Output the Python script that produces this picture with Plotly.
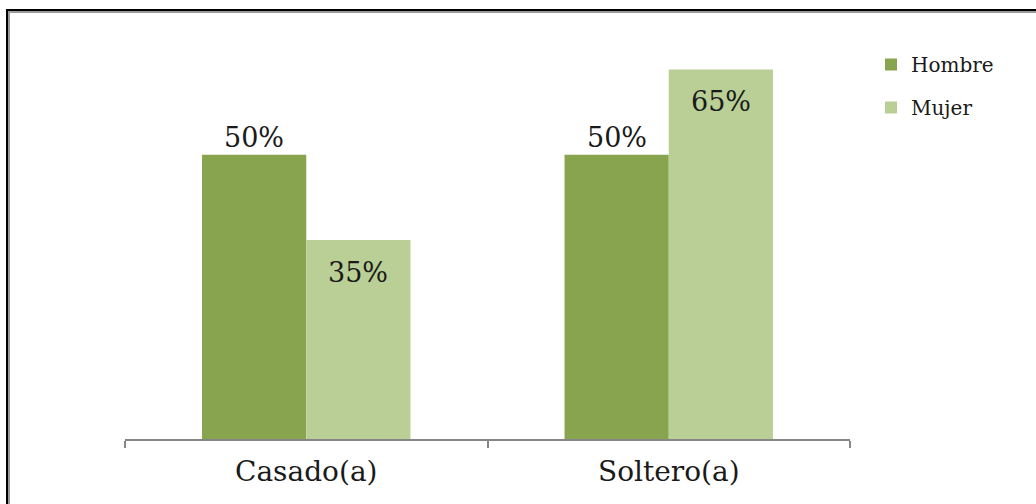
import plotly.graph_objects as go

# Estado civil por sexo (porcentaje)
categorias = ["Casado(a)", "Soltero(a)"]
hombre = [50, 50]
mujer = [35, 65]
series_nombres = ["Hombre", "Mujer"]
colores = ["#88A44E", "#B9CF96"]

W, H = 1036, 504
L, R, T, B = 125, 186, 41, 65
plot_w = W - L - R
plot_h = H - T - B

fig = go.Figure()
for nombre, valores, color in zip(series_nombres, [hombre, mujer], colores):
    fig.add_trace(go.Bar(
        x=categorias, y=valores, name=nombre,
        marker=dict(color=color, line=dict(width=0)),
        legendgroup=nombre,
    ))

# Etiquetas de valor: Hombre encima de la barra, Mujer dentro de la barra
bar_px = plot_w / len(categorias) * (1 - 0.425) / 2
fuente_val = dict(family="DejaVu Serif", size=27, color="#1a1a1a")
anot = []
for cat, vh, vm in zip(categorias, hombre, mujer):
    anot.append(dict(x=cat, y=vh, text=f"{vh}%", showarrow=False,
                     xshift=-bar_px / 2, yanchor="bottom", yshift=0,
                     font=fuente_val))
    anot.append(dict(x=cat, y=vm, text=f"{vm}%", showarrow=False,
                     xshift=bar_px / 2, yanchor="top", yshift=-15,
                     font=fuente_val))

def px_x(p):
    return (p - L) / plot_w

def px_y(p):
    return (H - B - p) / plot_h

# Marco del gráfico
marco = [
    dict(type="rect", xref="paper", yref="paper",
         x0=px_x(7), x1=px_x(1060), y0=px_y(530), y1=px_y(10),
         line=dict(color="#000000", width=2), fillcolor="rgba(0,0,0,0)", layer="above"),
    dict(type="rect", xref="paper", yref="paper",
         x0=px_x(9), x1=px_x(1060), y0=px_y(530), y1=px_y(12),
         line=dict(color="#9a9a9a", width=2), fillcolor="rgba(0,0,0,0)", layer="above"),
]

fig.update_layout(
    width=W, height=H,
    margin=dict(l=L, r=R, t=T, b=B),
    paper_bgcolor="white", plot_bgcolor="white",
    barmode="group", bargap=0.425, bargroupgap=0,
    showlegend=True,
    legend=dict(x=px_x(871), y=px_y(45), xanchor="left", yanchor="top",
                font=dict(family="DejaVu Serif", size=20, color="#1a1a1a"),
                traceorder="grouped", tracegroupgap=14,
                bgcolor="rgba(0,0,0,0)"),
    annotations=anot,
    shapes=marco,
    xaxis=dict(
        showline=True, linecolor="#868686", linewidth=2,
        ticks="outside", tickson="boundaries", ticklen=7, tickwidth=2, tickcolor="#868686",
        tickfont=dict(family="DejaVu Serif", size=28, color="#1a1a1a"),
        ticklabelstandoff=6,
        showgrid=False, zeroline=False, fixedrange=True,
    ),
    yaxis=dict(range=[0, 70], visible=False, showgrid=False, zeroline=False),
)

fig.write_html("out.html")
